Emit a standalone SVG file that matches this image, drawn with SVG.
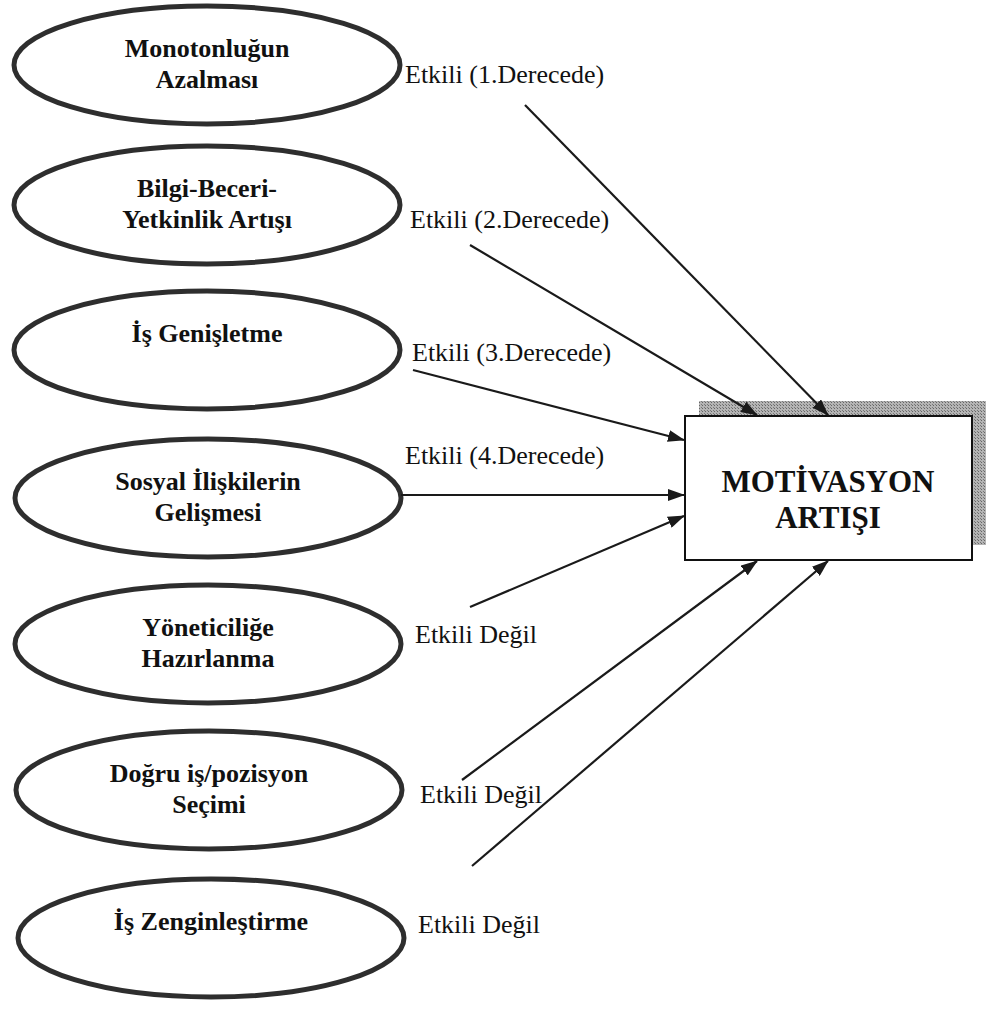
<svg xmlns="http://www.w3.org/2000/svg" width="987" height="1010" viewBox="0 0 987 1010">
  <style>
    .oval { fill: #ffffff; stroke: #2e2e2e; stroke-width: 5; }
    .otxt { font-family: "Liberation Serif", "Times New Roman", serif; font-weight: bold; font-size: 26px; fill: #111111; text-anchor: middle; }
    .lbl { font-family: "Liberation Serif", "Times New Roman", serif; font-size: 26px; fill: #111111; }
    .edge { stroke: #1a1a1a; stroke-width: 2.2; fill: none; marker-end: url(#head); }
    .btxt { font-family: "Liberation Serif", "Times New Roman", serif; font-weight: bold; font-size: 31px; fill: #111111; text-anchor: middle; }
  </style>
  <defs>
    <marker id="head" markerUnits="userSpaceOnUse" markerWidth="17" markerHeight="12" refX="16" refY="6" orient="auto">
      <path d="M0,0 L17,6 L0,12 z" fill="#1a1a1a"/>
    </marker>
    <pattern id="dots" width="3" height="3" patternUnits="userSpaceOnUse">
      <rect width="3" height="3" fill="#b4b4b4"/>
      <rect width="1" height="1" fill="#666666"/>
      <rect x="2" y="2" width="1" height="1" fill="#7a7a7a"/>
    </pattern>
  </defs>

  <rect width="987" height="1010" fill="#ffffff"/>

  <!-- factor ovals -->
  <g id="node-monotonluk">
    <ellipse class="oval" cx="207" cy="65" rx="193" ry="59"/>
    <text class="otxt" x="207" y="57">Monotonluğun</text>
    <text class="otxt" x="207" y="88">Azalması</text>
  </g>
  <g id="node-bilgi">
    <ellipse class="oval" cx="207" cy="205" rx="193" ry="59"/>
    <text class="otxt" x="207" y="197">Bilgi-Beceri-</text>
    <text class="otxt" x="207" y="228">Yetkinlik Artışı</text>
  </g>
  <g id="node-genisletme">
    <ellipse class="oval" cx="207" cy="350" rx="193" ry="59"/>
    <text class="otxt" x="207" y="342">İş Genişletme</text>
  </g>
  <g id="node-sosyal">
    <ellipse class="oval" cx="208" cy="498" rx="193" ry="59"/>
    <text class="otxt" x="208" y="490">Sosyal İlişkilerin</text>
    <text class="otxt" x="208" y="521">Gelişmesi</text>
  </g>
  <g id="node-yonetici">
    <ellipse class="oval" cx="208" cy="644" rx="193" ry="59"/>
    <text class="otxt" x="208" y="636">Yöneticiliğe</text>
    <text class="otxt" x="208" y="667">Hazırlanma</text>
  </g>
  <g id="node-dogru">
    <ellipse class="oval" cx="209" cy="790" rx="193" ry="59"/>
    <text class="otxt" x="209" y="782">Doğru iş/pozisyon</text>
    <text class="otxt" x="209" y="813">Seçimi</text>
  </g>
  <g id="node-zenginlestirme">
    <ellipse class="oval" cx="211" cy="938" rx="193" ry="59"/>
    <text class="otxt" x="211" y="930">İş Zenginleştirme</text>
  </g>

  <!-- outcome box with offset shadow -->
  <g id="node-motivasyon">
    <rect x="699" y="401" width="287" height="144" fill="url(#dots)"/>
    <rect x="685" y="416" width="287" height="144" fill="#ffffff" stroke="#111111" stroke-width="2"/>
    <text class="btxt" x="828" y="492">MOTİVASYON</text>
    <text class="btxt" x="828" y="528">ARTIŞI</text>
  </g>

  <!-- connectors -->
  <g id="connectors">
    <line class="edge" x1="525" y1="105" x2="828" y2="415"/>
    <line class="edge" x1="470" y1="245" x2="757" y2="415"/>
    <line class="edge" x1="413" y1="370" x2="684" y2="440"/>
    <line class="edge" x1="401" y1="495" x2="684" y2="495"/>
    <line class="edge" x1="470" y1="607" x2="684" y2="516"/>
    <line class="edge" x1="462" y1="780" x2="757" y2="561"/>
    <line class="edge" x1="472" y1="866" x2="828" y2="561"/>
  </g>

  <!-- connector labels -->
  <g id="labels">
    <text class="lbl" x="405" y="83">Etkili (1.Derecede)</text>
    <text class="lbl" x="410" y="228">Etkili (2.Derecede)</text>
    <text class="lbl" x="412" y="361">Etkili (3.Derecede)</text>
    <text class="lbl" x="405" y="464">Etkili (4.Derecede)</text>
    <text class="lbl" x="415" y="643">Etkili Değil</text>
    <text class="lbl" x="420" y="803">Etkili Değil</text>
    <text class="lbl" x="418" y="933">Etkili Değil</text>
  </g>
</svg>
